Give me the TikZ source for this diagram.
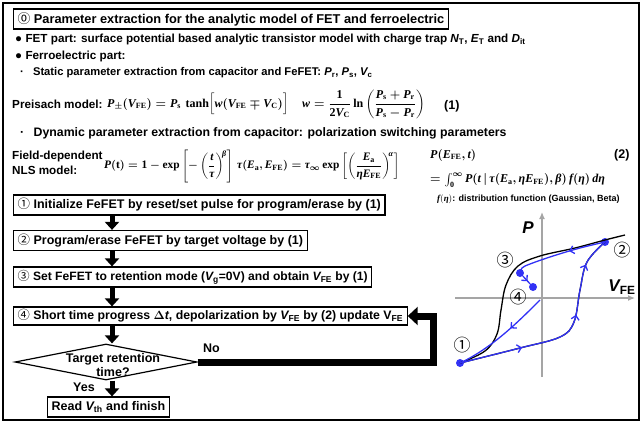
\documentclass[tikz,border=0pt]{standalone}
\usepackage{amsmath}
\usepackage{fontspec}
\setmainfont{Liberation Serif}
\setsansfont{Liberation Sans}
\newfontfamily\circfont{Noto Sans CJK JP}
\usetikzlibrary{arrows.meta, shapes.geometric, decorations.markings}
\definecolor{loopblue}{RGB}{50, 50, 245}
\definecolor{axisgray}{RGB}{165, 165, 165}
\newcommand{\cnum}[1]{{\circfont\mdseries #1}}
\newcommand{\sv}[2]{{\itshape #1}\textsubscript{#2}}
\newcommand{\fsz}[1]{\sffamily\bfseries\fontsize{#1}{#1}\selectfont}
% Formelbuchstaben
\newcommand{\vb}[1]{\text{\normalfont\rmfamily\bfseries\itshape #1}}
\newcommand{\rb}[1]{\text{\normalfont\rmfamily\bfseries #1}}
\newcommand{\op}[1]{\mathop{\rb{#1}}\nolimits}

\begin{document}
\begin{tikzpicture}[x=1pt, y=-1pt,
					>={Straight Barb[length=4pt, width=8pt]},   %Pfeilspitzen im Diagramm
					font=\fsz{11.7},
					txt/.style={anchor=west, inner sep=0pt},
					eq/.style={anchor=west, inner sep=0pt, font=\fontsize{12}{14}\selectfont, execute at begin node=\boldmath},
					stepbox/.style={draw, line width=1.2pt, anchor=west, inner xsep=4pt, inner ysep=0pt, minimum height=20pt, font=\fsz{12.5}},
					decbox/.style={diamond, draw, line width=1.2pt, minimum width=182pt, minimum height=36pt, inner sep=0pt},
					flowarrow/.style={line width=5pt, -{Triangle[length=8pt, width=14pt]}},
					fback/.style={line width=7pt, line join=miter, -{Triangle[length=10pt, width=18pt]}},
					dot/.style={circle, fill=loopblue, inner sep=0pt, minimum size=8pt},
					num/.style={font=\circfont\fontsize{17}{17}\selectfont, inner sep=0pt},
					mid/.style={postaction={decorate, decoration={markings, mark=at position #1 with {\arrow{>}}}}}]
					%Rahmen
					\useasboundingbox (0,0) rectangle (642,423);
					\draw[line width=1.5pt] (3,3) rectangle (639,420);
					% Parameter
					\node[stepbox, font=\fsz{12.8}] (head) at (13,19) {\cnum{⓪} Parameter extraction for the analytic model of FET and ferroelectric};
					\node[txt] (fet) at (15,40) {● FET part: surface potential based analytic transistor model with charge trap \sv{N}{T}, \sv{E}{T} and \sv{D}{it}};
					\node[txt] (ferro) at (15,56) {● Ferroelectric part:};
					\node[txt, font=\fsz{11.2}] (stat) at (20,73) {·\hspace{6pt} Static parameter extraction from capacitor and FeFET: \sv{P}{r}, \sv{P}{s}, \sv{V}{c}};
					\node[txt] (preis) at (12,104) {Preisach model:};
					\node[eq] (eqp) at (107,104) {$\vb{P}_{\pm}(\vb{V}_{\rb{FE}}) = \vb{P}_{\rb{s}}\,\op{tanh}\Bigl[\vb{w}(\vb{V}_{\rb{FE}}\mp \vb{V}_{\rb{C}})\Bigr]$};
					\node[eq] (eqw) at (302,104) {$\vb{w}=\dfrac{\rb{1}}{\rb{2}\vb{V}_{\rb{C}}}\op{ln}\left(\dfrac{\vb{P}_{\rb{s}}+\vb{P}_{\rb{r}}}{\vb{P}_{\rb{s}}-\vb{P}_{\rb{r}}}\right)$};
					\node[txt, font=\fsz{12.5}] (n1) at (444,106) {(1)};
					\node[txt, font=\fsz{12.3}] (dyn) at (20,133) {·\hspace{6pt} Dynamic parameter extraction from capacitor: polarization switching parameters};
					\node[txt, align=left, font=\sffamily\bfseries\fontsize{11.7}{15}\selectfont] (nls) at (12,163) {Field-dependent\\NLS model:};
					\node[eq, font=\fontsize{11.4}{13}\selectfont] (eqt) at (104,166) {$\vb{P}(\rb{t}) = \rb{1}-\op{exp}\left[-\left(\dfrac{\vb{t}}{\vb{τ}}\right)^{\!\vb{β}}\right]$};
					\node[eq, font=\fontsize{11.4}{13}\selectfont] (eqtau) at (237,166) {$\vb{τ}(\vb{E}_{\rb{a}},\vb{E}_{\rb{FE}}) = \vb{τ}_{\boldsymbol{\infty}}\op{exp}\left[\left(\dfrac{\vb{E}_{\rb{a}}}{\vb{η}\vb{E}_{\rb{FE}}}\right)^{\!\vb{α}}\right]$};
					\node[eq] (eqpe) at (430,155) {$\vb{P}(\vb{E}_{\rb{FE}},\vb{t})$};
					\node[txt, font=\fsz{12.5}] (n2) at (614,155) {(2)};
					\node[eq] (eqint) at (430,180) {$=\int_{\rb{0}}^{\boldsymbol{\infty}} \vb{P}(\vb{t}\,|\,\vb{τ}(\vb{E}_{\rb{a}},\vb{η}\vb{E}_{\rb{FE}}),\vb{β})\,\vb{f}(\vb{η})\,\vb{d}\vb{η}$};
					\node[txt, font=\fsz{9}] (dist) at (437,199) {$\vb{f}(\vb{η})$: distribution function (Gaussian, Beta)};
					% Ablauf
					\node[stepbox] (s1) at (13,205) {\cnum{①} Initialize FeFET by reset/set pulse for program/erase by (1)};
					\node[stepbox] (s2) at (13,240.5) {\cnum{②} Program/erase FeFET by target voltage by (1)};
					\node[stepbox, font=\fsz{12.1}] (s3) at (13,277) {\cnum{③} Set FeFET to retention mode (\sv{V}{g}=0V) and obtain \sv{V}{FE} by (1)};
					\node[stepbox, minimum height=18pt, font=\fsz{12.3}] (s4) at (13,316) {\cnum{④} Short time progress $\boldsymbol{\Delta}${\itshape t}, depolarization by \sv{V}{FE} by (2) update V\textsubscript{FE}};
					\node[decbox, label={[xshift=7pt, yshift=-3pt, align=center, inner sep=0pt, font=\sffamily\bfseries\fontsize{12.5}{14}\selectfont]center:Target retention\\time?}] (dec) at (106,362) {};
					\node[txt, font=\fsz{12.5}] (yes) at (73,387) {Yes};
					\node[txt, font=\fsz{12.5}] (no) at (203,348) {No};
					\node[stepbox] (fin) at (47,407) {Read \sv{V}{th} and finish};
					\coordinate (ax) at (112,0);
					\draw[flowarrow] (s1.south -| ax) -- (s2.north -| ax);
					\draw[flowarrow] (s2.south -| ax) -- (s3.north -| ax);
					\draw[flowarrow] (s3.south -| ax) -- (s4.north -| ax);
					\draw[flowarrow] (s4.south -| ax) -- (dec.north -| ax);
					\draw[flowarrow] (dec.south -| ax) -- (fin.north -| ax);
					\draw[fback] (dec.east) -- ++(236,0) |- (s4.east);
					% Achsen
					\draw[axisgray, line width=1.3pt, -{Latex[length=7pt, width=6pt]}] (455,298) -- (635,298);
					\draw[axisgray, line width=1.3pt, -{Latex[length=7pt, width=6pt]}] (542,377) -- (542,212);
					\node[font=\sffamily\bfseries\itshape\fontsize{17}{17}\selectfont] (plab) at (528,228) {P};
					\node[font=\sffamily\bfseries\fontsize{17}{17}\selectfont, inner sep=0pt] (vlab) at (622,287) {\itshape V\textsubscript{\upshape FE}};
					% Punkte
					\node[dot] (p1) at (460,363) {};
					\node[dot] (p2) at (605,242) {};
					\node[dot] (p3) at (520,273) {};
					\node[dot] (p4) at (533,287) {};
					\node[num] (c1) at (462,345) {①};
					\node[num] (c2) at (622,250) {②};
					\node[num] (c3) at (505,260) {③};
					\node[num] (c4) at (518,297) {④};
					% Hysterese
					\draw[line width=1.3pt] plot[smooth, tension=0.6] coordinates {(p1.center) (485,351) (497,334) (501,310) (506,285) (518,266) (540,256) (575,248) (605,240) (625,235)};
					\draw[line width=1.3pt] plot[smooth, tension=0.6] coordinates {(p1.center) (520,348) (560,337) (574,322) (580,290) (587,262) (p2.center)};
					\draw[loopblue, line width=1.3pt, mid=0.3, mid=0.62, mid=0.86] plot[smooth, tension=0.6] coordinates {(p1.center) (520,348) (560,337) (574,322) (580,290) (587,262) (p2.center)};
					\draw[loopblue, line width=1.3pt, mid=0.4] plot[smooth, tension=0.6] coordinates {(p2.center) (580,248) (553,256) (530,264) (522,268) (p3.center)};
					\draw[loopblue, line width=1.3pt, mid=0.4] (540,300) .. controls (518,322) and (492,348) .. (p1.center);
					\draw[loopblue, line width=1.3pt, mid=0.65] (p3) -- (p4);
				\end{tikzpicture}
\end{document}
